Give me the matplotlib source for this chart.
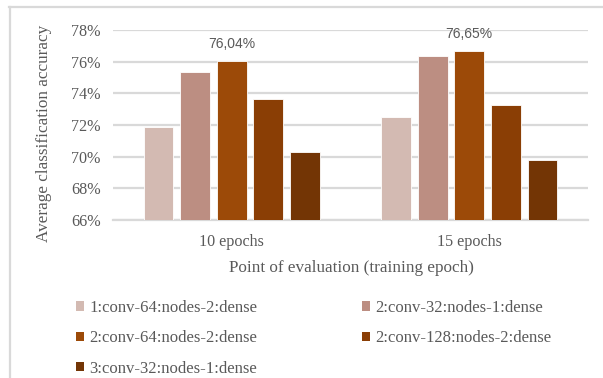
import numpy as np
import matplotlib
matplotlib.use("Agg")
import matplotlib.pyplot as plt
from matplotlib.lines import Line2D
from matplotlib.patches import Patch

categories = ["10 epochs", "15 epochs"]
series_names = [
    "1:conv-64:nodes-2:dense",
    "2:conv-32:nodes-1:dense",
    "2:conv-64:nodes-2:dense",
    "2:conv-128:nodes-2:dense",
    "3:conv-32:nodes-1:dense",
]
acc_10 = [71.86, 75.33, 76.04, 73.62, 70.30]
acc_15 = [72.53, 76.36, 76.65, 73.24, 69.79]
colors = ["#D3BAB2", "#BC8E82", "#9C4A08", "#8A3E05", "#733505"]
yticks = [66, 68, 70, 72, 74, 76, 78]

GRAY = "#595959"
LIGHT = "#D9D9D9"
SERIF = ["Liberation Serif", "DejaVu Serif"]

W, H = 603, 378
fig = plt.figure(figsize=(W / 100, H / 100), dpi=100)

def fx(px):
    return px / W

def fy(py):
    return 1 - py / H

ax = fig.add_axes([fx(113), fy(220), fx(588) - fx(113), fy(30) - fy(220)])

values = np.array([acc_10, acc_15])
x = np.arange(len(categories))
pitch, width = 0.154, 0.125
for i, name in enumerate(series_names):
    ax.bar(x + (i - 2) * pitch, values[:, i], width=width, bottom=0,
           color=colors[i], edgecolor="white", linewidth=0.6,
           label=name, zorder=3)

# label the best configuration in each group
best = 2
for j in range(len(categories)):
    v = values[j, best]
    ax.annotate(f"{v:.2f}%".replace(".", ","),
                (x[j] + (best - 2) * pitch, v), xytext=(0, 7.5),
                textcoords="offset points", ha="center", va="bottom",
                fontsize=10, color=GRAY, family=["Liberation Sans", "DejaVu Sans"])

ax.set_ylim(66, 78)
ax.set_xlim(-0.5, 1.5)
ax.set_yticks(yticks)
ax.set_yticklabels([f"{t}%" for t in yticks], family=SERIF, fontsize=11.6, color=GRAY)
ax.set_xticks(x)
ax.set_xticklabels(categories, family=SERIF, fontsize=11.6, color=GRAY)
ax.tick_params(length=0, pad=9)
ax.tick_params(axis="x", pad=10)
ax.grid(axis="y", color=LIGHT, linewidth=1.6, zorder=0)
for s in ["top", "right", "left"]:
    ax.spines[s].set_visible(False)
ax.spines["bottom"].set_color(LIGHT)
ax.spines["bottom"].set_linewidth(1.6)
ax.spines["bottom"].set_zorder(2)

fig.text(fx(351), fy(268), "Point of evaluation (training epoch)", ha="center",
         va="center", family=SERIF, fontsize=12.3, color=GRAY)
fig.text(fx(44), fy(133), "Average classification accuracy", ha="center",
         va="center", rotation=90, family=SERIF, fontsize=12.3, color=GRAY)

# legend laid out row by row: two columns
order = [0, 2, 4, 1, 3]
handles = [Patch(facecolor=colors[i], edgecolor="none") for i in order]
labels = [series_names[i] for i in order]
leg = fig.legend(handles, labels, ncol=2, loc="upper left",
                 bbox_to_anchor=(fx(76), fy(300)), frameon=False,
                 prop={"family": SERIF, "size": 12.0},
                 handlelength=0.48, handleheight=0.48, handletextpad=0.3,
                 columnspacing=6.3, labelspacing=0.86, borderpad=0,
                 borderaxespad=0)
for t in leg.get_texts():
    t.set_color(GRAY)

# chart border (left and top edges)
fig.add_artist(Line2D([fx(9.5), fx(9.5)], [fy(7), fy(H + 5)], color=LIGHT,
                      linewidth=1.6, transform=fig.transFigure))
fig.add_artist(Line2D([fx(9), fx(W + 5)], [fy(7), fy(7)], color=LIGHT,
                      linewidth=1.6, transform=fig.transFigure))

fig.savefig("out.png", dpi=100)
